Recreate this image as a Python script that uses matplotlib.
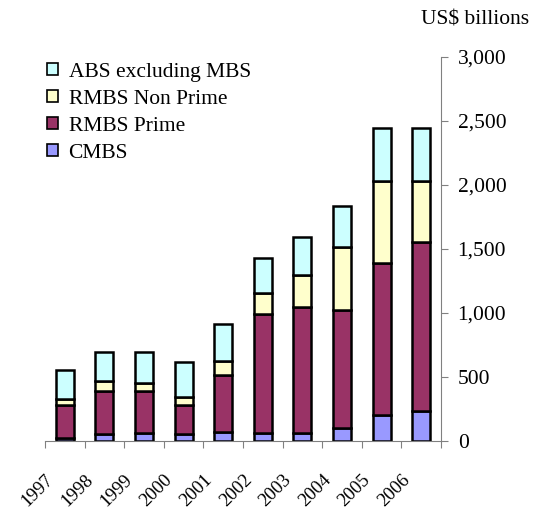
import matplotlib.pyplot as plt
import numpy as np
from matplotlib.patches import Patch

years = ['1997', '1998', '1999', '2000', '2001', '2002', '2003', '2004', '2005', '2006']
cmbs = [21, 52, 65, 52, 68, 65, 65, 99, 203, 237]
rmbs_prime = [260, 341, 328, 229, 450, 925, 984, 922, 1188, 1315]
rmbs_non_prime = [47, 76, 63, 65, 107, 169, 250, 497, 640, 479]
abs_ex_mbs = [224, 226, 239, 269, 289, 268, 297, 318, 414, 414]

series = [('CMBS', cmbs, '#9999ff'),
          ('RMBS Prime', rmbs_prime, '#993366'),
          ('RMBS Non Prime', rmbs_non_prime, '#ffffcc'),
          ('ABS excluding MBS', abs_ex_mbs, '#ccffff')]

plt.rcParams['font.family'] = 'Liberation Serif'
plt.rcParams['font.size'] = 15.5

fig = plt.figure(figsize=(5.38, 5.12), dpi=100)
ax = fig.add_axes([45/538, 1-441/512, (441-45)/538, (441-57)/512])

x = np.arange(len(years))
bottom = np.zeros(len(years))
for name, vals, col in series:
    ax.bar(x, vals, width=0.45, bottom=bottom, color=col, edgecolor='black', linewidth=1.8)
    bottom += np.array(vals)

ax.set_xlim(-0.5, len(years) - 0.5)
ax.set_ylim(0, 3000)

# y axis on the right side
ax.yaxis.tick_right()
ax.set_yticks(np.arange(0, 3001, 500))
ax.set_yticklabels(['{:,}'.format(v) for v in range(0, 3001, 500)])
ax.tick_params(axis='y', direction='out', length=5, color='#808080', pad=7)

# year labels sit at the category boundaries
ax.set_xticks(np.arange(len(years) + 1) - 0.5)
ax.set_xticklabels(years + [''], rotation=45, ha='right', va='top', rotation_mode='anchor', fontsize=13.5)
ax.tick_params(axis='x', direction='out', length=5, color='#808080', pad=17)

for s in ['top', 'left']:
    ax.spines[s].set_visible(False)
ax.spines['right'].set_color('#808080')
ax.spines['bottom'].set_color('#808080')

handles = [Patch(facecolor=c, edgecolor='black', linewidth=1.2, label=n) for n, v, c in series[::-1]]
fig.legend(handles=handles, loc='upper left', bbox_to_anchor=(47/538, 1-63/512), frameon=False,
           handlelength=0.5, handleheight=0.5, handletextpad=0.5, labelspacing=0.37,
           borderpad=0, borderaxespad=0)

fig.text(475/538, 1-20/512, 'US$ billions', ha='center', va='center')

fig.savefig('out.png', dpi=100)
